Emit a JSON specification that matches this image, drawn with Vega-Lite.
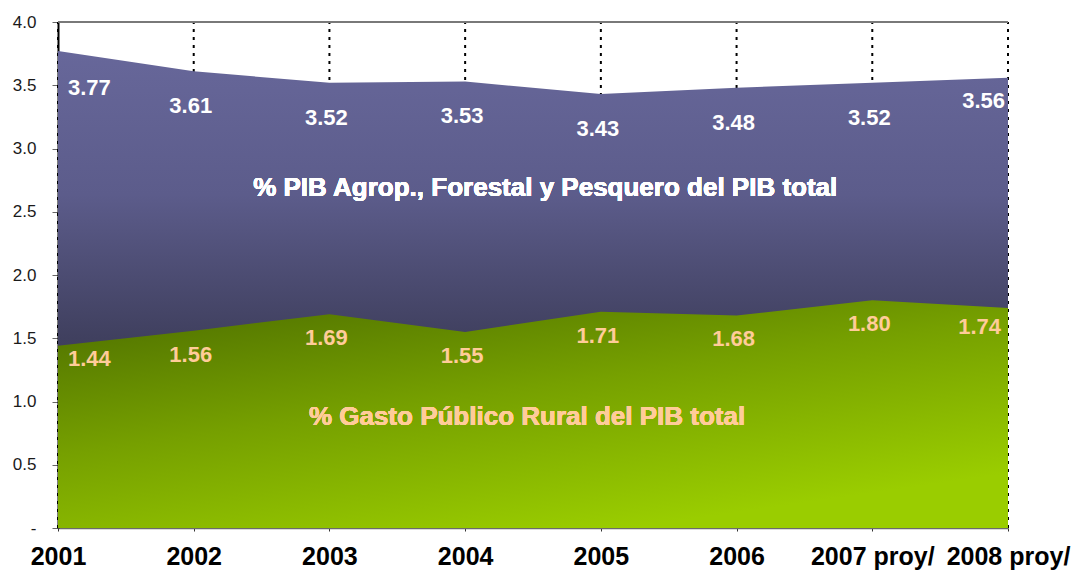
{
  "$schema": "https://vega.github.io/schema/vega-lite/v6.json",
  "width": 950,
  "height": 506,
  "autosize": {"type": "none"},
  "padding": {"left": 58, "top": 22, "right": 68, "bottom": 46},
  "background": "white",
  "config": {
    "view": {"stroke": null},
    "font": "Liberation Sans, Arial, sans-serif"
  },
  "data": {
    "values": [
      {"year": 2001, "pib": 3.77, "gasto": 1.44},
      {"year": 2002, "pib": 3.61, "gasto": 1.56},
      {"year": 2003, "pib": 3.52, "gasto": 1.69},
      {"year": 2004, "pib": 3.53, "gasto": 1.55},
      {"year": 2005, "pib": 3.43, "gasto": 1.71},
      {"year": 2006, "pib": 3.48, "gasto": 1.68},
      {"year": 2007, "pib": 3.52, "gasto": 1.80},
      {"year": 2008, "pib": 3.56, "gasto": 1.74}
    ]
  },
  "encoding": {
    "x": {
      "field": "year",
      "type": "quantitative",
      "scale": {"domain": [2001, 2008], "nice": false, "zero": false},
      "axis": {
        "title": null,
        "values": [2001, 2002, 2003, 2004, 2005, 2006, 2007, 2008],
        "labelExpr": "datum.value >= 2007 ? datum.value + ' proy/' : '' + datum.value",
        "labelFont": "Liberation Sans, Arial, sans-serif",
        "labelFontSize": 25,
        "labelFontWeight": "bold",
        "labelColor": "#000000",
        "labelPadding": 13,
        "labelFlush": false,
        "labelOverlap": false,
        "domainColor": "#6b6b6b",
        "domainWidth": 1.5,
        "tickColor": "#333333",
        "tickSize": 3,
        "grid": false
      }
    }
  },
  "layer": [
    {
      "mark": {"type": "rule", "color": "#000000", "strokeWidth": 2, "strokeDash": [3, 5]},
      "encoding": {
        "y": {"datum": 0, "type": "quantitative"},
        "y2": {"datum": 4}
      }
    },
    {
      "mark": {"type": "rule", "color": "#7a7a7a", "strokeWidth": 1.5},
      "encoding": {
        "x": {"datum": 2001, "type": "quantitative"},
        "x2": {"datum": 2008},
        "y": {"datum": 4, "type": "quantitative"}
      }
    },
    {
      "mark": {
        "type": "area",
        "line": false,
        "color": {
          "gradient": "linear",
          "x1": 0, "y1": 0, "x2": 0, "y2": 1,
          "stops": [
            {"offset": 0, "color": "#67679a"},
            {"offset": 0.3, "color": "#5c5c8b"},
            {"offset": 0.6, "color": "#40405f"},
            {"offset": 1, "color": "#2c2c44"}
          ]
        }
      },
      "encoding": {
        "y": {
          "field": "pib",
          "type": "quantitative",
          "scale": {"domain": [0, 4], "nice": false},
          "axis": {
            "title": null,
            "values": [0, 0.5, 1, 1.5, 2, 2.5, 3, 3.5, 4],
            "labelExpr": "datum.value == 0 ? '-' : format(datum.value, '.1f')",
            "labelFont": "Liberation Sans, Arial, sans-serif",
            "labelFontSize": 17,
            "labelColor": "#1a1a1a",
            "labelPadding": 16,
            "domainColor": "#000000",
            "domainWidth": 2,
            "tickColor": "#666666",
            "tickSize": 6,
            "grid": false
          }
        }
      }
    },
    {
      "mark": {
        "type": "area",
        "line": false,
        "color": {
          "gradient": "linear",
          "x1": 0, "y1": 0, "x2": 0.6, "y2": 1,
          "stops": [
            {"offset": 0, "color": "#4b6c00"},
            {"offset": 0.5, "color": "#76a000"},
            {"offset": 1, "color": "#9acd00"}
          ]
        }
      },
      "encoding": {
        "y": {"field": "gasto", "type": "quantitative"}
      }
    },
    {
      "transform": [{"filter": "datum.year > 2001 && datum.year < 2008"}],
      "mark": {"type": "text", "color": "#ffffff", "fontWeight": "bold", "fontSize": 22, "align": "center", "baseline": "middle", "dy": 35, "dx": -3},
      "encoding": {
        "y": {"field": "pib", "type": "quantitative"},
        "text": {"field": "pib", "type": "quantitative", "format": ".2f"}
      }
    },
    {
      "transform": [{"filter": "datum.year == 2001"}],
      "mark": {"type": "text", "color": "#ffffff", "fontWeight": "bold", "fontSize": 22, "align": "left", "baseline": "middle", "dy": 37, "dx": 10},
      "encoding": {
        "y": {"field": "pib", "type": "quantitative"},
        "text": {"field": "pib", "type": "quantitative", "format": ".2f"}
      }
    },
    {
      "transform": [{"filter": "datum.year == 2008"}],
      "mark": {"type": "text", "color": "#ffffff", "fontWeight": "bold", "fontSize": 22, "align": "right", "baseline": "middle", "dy": 23, "dx": -3},
      "encoding": {
        "y": {"field": "pib", "type": "quantitative"},
        "text": {"field": "pib", "type": "quantitative", "format": ".2f"}
      }
    },
    {
      "transform": [{"filter": "datum.year > 2001 && datum.year < 2008"}],
      "mark": {"type": "text", "color": "#ffcc99", "fontWeight": "bold", "fontSize": 22, "align": "center", "baseline": "middle", "dy": 24, "dx": -3},
      "encoding": {
        "y": {"field": "gasto", "type": "quantitative"},
        "text": {"field": "gasto", "type": "quantitative", "format": ".2f"}
      }
    },
    {
      "transform": [{"filter": "datum.year == 2001"}],
      "mark": {"type": "text", "color": "#ffcc99", "fontWeight": "bold", "fontSize": 22, "align": "left", "baseline": "middle", "dy": 13, "dx": 10},
      "encoding": {
        "y": {"field": "gasto", "type": "quantitative"},
        "text": {"field": "gasto", "type": "quantitative", "format": ".2f"}
      }
    },
    {
      "transform": [{"filter": "datum.year == 2008"}],
      "mark": {"type": "text", "color": "#ffcc99", "fontWeight": "bold", "fontSize": 22, "align": "right", "baseline": "middle", "dy": 19, "dx": -7},
      "encoding": {
        "y": {"field": "gasto", "type": "quantitative"},
        "text": {"field": "gasto", "type": "quantitative", "format": ".2f"}
      }
    },
    {
      "mark": {"type": "text", "text": "% PIB Agrop., Forestal y Pesquero del PIB total", "color": "#ffffff", "fontWeight": "bold", "fontSize": 26, "align": "center", "baseline": "middle"},
      "encoding": {
        "x": {"datum": 2004.59, "type": "quantitative"},
        "y": {"datum": 2.69, "type": "quantitative"}
      }
    },
    {
      "mark": {"type": "text", "text": "% Gasto Público Rural del PIB total", "color": "#ffcc99", "fontWeight": "bold", "fontSize": 26, "align": "center", "baseline": "middle"},
      "encoding": {
        "x": {"datum": 2004.456, "type": "quantitative"},
        "y": {"datum": 0.877, "type": "quantitative"}
      }
    }
  ]
}
